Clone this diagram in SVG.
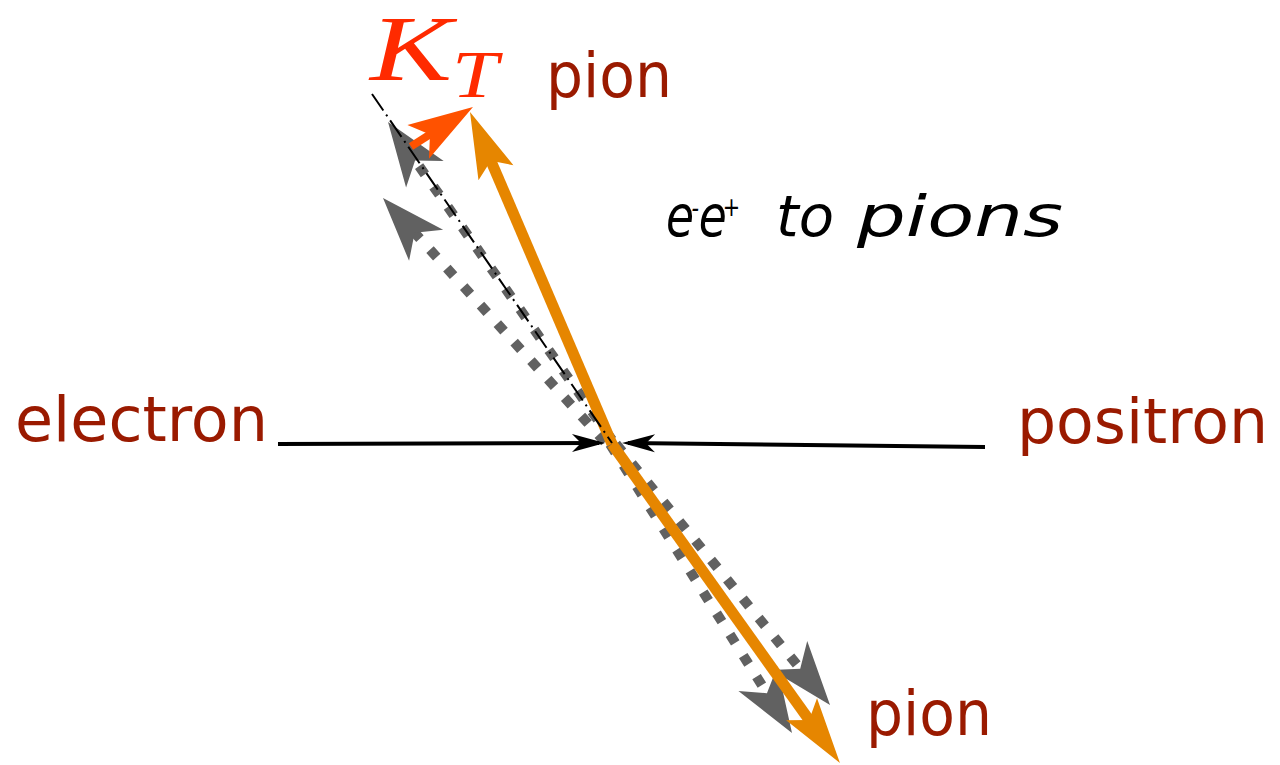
<svg xmlns="http://www.w3.org/2000/svg" width="1280" height="765" viewBox="0 0 1280 765">
  <style>
    .label { font-family: "DejaVu Sans", "Liberation Sans", sans-serif; fill: #9a1a00; font-size: 63px; }
    .title { font-family: "DejaVu Sans", "Liberation Sans", sans-serif; font-style: italic; fill: #000; font-size: 57px; }
    .sup { font-size: 26px; }
    .kt { font-family: "Liberation Serif", "DejaVu Serif", serif; font-style: italic; fill: #ff2a00; }
    .gray { stroke: #616161; stroke-width: 10; fill: none; stroke-dasharray: 10 15; marker-end: url(#ah-gray); }
    .orange { stroke: #e68600; stroke-width: 11; fill: none; marker-end: url(#ah-orange); }
    .beam { stroke: #000; stroke-width: 4; fill: none; marker-end: url(#ah-black); }
  </style>
  <defs>
    <marker id="ah-gray" markerUnits="userSpaceOnUse" orient="auto" refX="0" refY="0" markerWidth="80" markerHeight="60" overflow="visible">
      <path d="M30,0 L-34,-23 L-17,0 L-34,23 Z" fill="#616161"/>
    </marker>
    <marker id="ah-orange" markerUnits="userSpaceOnUse" orient="auto" refX="0" refY="0" markerWidth="80" markerHeight="60" overflow="visible">
      <path d="M30,0 L-36,-19 L-23,0 L-36,19 Z" fill="#e68600"/>
    </marker>
    <marker id="ah-red" markerUnits="userSpaceOnUse" orient="auto" refX="0" refY="0" markerWidth="80" markerHeight="60" overflow="visible">
      <path d="M25,0 L-40,-20 L-26,0 L-40,20 Z" fill="#ff5200"/>
    </marker>
    <marker id="ah-black" markerUnits="userSpaceOnUse" orient="auto" refX="0" refY="0" markerWidth="60" markerHeight="30" overflow="visible">
      <path d="M6,0 L-27,-9 L-18,0 L-27,9 Z" fill="#000"/>
    </marker>
  </defs>

  <g id="connectors">
    <line id="gray-up-1" class="gray" x1="612" y1="440" x2="405.3" y2="146.5"/>
    <line id="gray-up-2" class="gray" x1="605" y1="442" x2="403.2" y2="220.2"/>
    <line id="gray-down-1" class="gray" x1="610" y1="444" x2="776" y2="707.6"/>
    <line id="gray-down-2" class="gray" x1="616" y1="444" x2="811" y2="681.8"/>
    <line id="pion-up" class="orange" x1="612" y1="444" x2="481.8" y2="139.6"/>
    <line id="pion-down" class="orange" x1="612" y1="444" x2="822.5" y2="738.6"/>
    <line id="axis" x1="372" y1="94" x2="612" y2="443" stroke="#000" stroke-width="2" stroke-dasharray="20 5 2 5"/>
    <line id="kt-arrow" x1="411" y1="146.5" x2="451.9" y2="120.4" stroke="#ff5200" stroke-width="8" marker-end="url(#ah-red)"/>
    <line id="electron-beam" class="beam" x1="278" y1="444" x2="599" y2="443"/>
    <line id="positron-beam" class="beam" x1="985" y1="447" x2="628" y2="443"/>
  </g>

  <g id="node-electron">
    <text class="label" x="15" y="441" textLength="253" lengthAdjust="spacingAndGlyphs">electron</text>
  </g>
  <g id="node-positron">
    <text class="label" x="1017" y="443" textLength="251" lengthAdjust="spacingAndGlyphs">positron</text>
  </g>
  <g id="node-pion-top">
    <text class="label" x="546" y="97" textLength="126" lengthAdjust="spacingAndGlyphs">pion</text>
  </g>
  <g id="node-pion-bottom">
    <text class="label" x="866" y="735" textLength="126" lengthAdjust="spacingAndGlyphs">pion</text>
  </g>
  <g id="node-kt">
    <text class="kt" x="370" y="80" font-size="94" textLength="82" lengthAdjust="spacingAndGlyphs">K</text>
    <text class="kt" x="452" y="97" font-size="68" textLength="46" lengthAdjust="spacingAndGlyphs">T</text>
  </g>
  <g id="node-title">
    <text class="title" transform="matrix(0.8 0 0 1 666 236)"><tspan x="0" y="0">e</tspan><tspan class="sup" x="32" y="-19">-</tspan><tspan x="41" y="0">e</tspan><tspan class="sup" x="71" y="-20">+</tspan></text>
    <text class="title" x="776" y="236" textLength="58" lengthAdjust="spacingAndGlyphs">to</text>
    <text class="title" x="857" y="236" textLength="206" lengthAdjust="spacingAndGlyphs">pions</text>
  </g>
</svg>
